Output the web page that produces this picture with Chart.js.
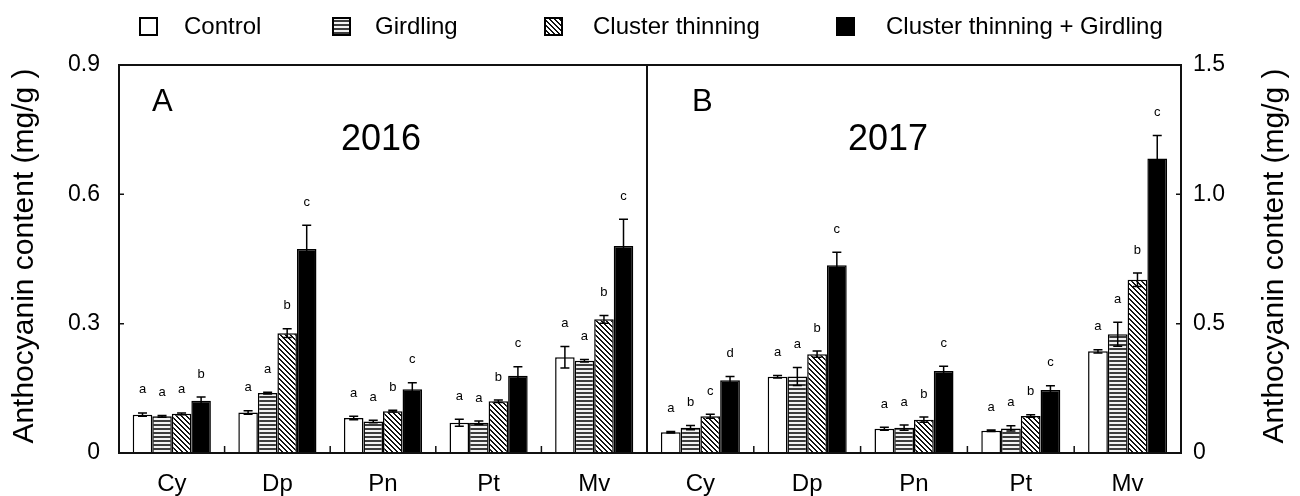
<!DOCTYPE html>
<html>
<head>
<meta charset="utf-8">
<script src="https://cdn.jsdelivr.net/npm/chart.js@4.4.1/dist/chart.umd.min.js"></script>
<style>
  body { margin: 0; background: #fff; }
  #wrap { position: relative; width: 1300px; height: 496px; }
  #wrap canvas { position: absolute; left: 0; top: 0; }
</style>
</head>
<body>
<div id="wrap">
  <canvas id="c2016" width="1300" height="496"></canvas>
  <canvas id="c2017" width="1300" height="496"></canvas>
</div>
<script>
const categories = ['Cy', 'Dp', 'Pn', 'Pt', 'Mv'];
const treatments = ['Control', 'Girdling', 'Cluster thinning', 'Cluster thinning + Girdling'];

// 2016 (panel A), mg/g
const control2016 = [0.089, 0.094, 0.081, 0.070, 0.222];
const girdling2016 = [0.085, 0.139, 0.073, 0.070, 0.214];
const thinning2016 = [0.091, 0.278, 0.097, 0.120, 0.310];
const both2016 = [0.121, 0.473, 0.148, 0.179, 0.480];
const control2016Err = [0.004, 0.004, 0.004, 0.008, 0.025];
const girdling2016Err = [0.002, 0.002, 0.003, 0.004, 0.003];
const thinning2016Err = [0.002, 0.010, 0.002, 0.003, 0.009];
const both2016Err = [0.009, 0.055, 0.015, 0.021, 0.062];
const control2016Sig = ['a', 'a', 'a', 'a', 'a'];
const girdling2016Sig = ['a', 'a', 'a', 'a', 'a'];
const thinning2016Sig = ['a', 'b', 'b', 'b', 'b'];
const both2016Sig = ['b', 'c', 'c', 'c', 'c'];

// 2017 (panel B), mg/g
const control2017 = [0.080, 0.295, 0.094, 0.086, 0.393];
const girdling2017 = [0.098, 0.296, 0.098, 0.095, 0.459];
const thinning2017 = [0.142, 0.382, 0.129, 0.143, 0.670];
const both2017 = [0.281, 0.726, 0.317, 0.244, 1.139];
const control2017Err = [0.003, 0.005, 0.006, 0.003, 0.006];
const girdling2017Err = [0.008, 0.035, 0.010, 0.010, 0.046];
const thinning2017Err = [0.008, 0.012, 0.010, 0.005, 0.026];
const both2017Err = [0.015, 0.050, 0.018, 0.016, 0.088];
const control2017Sig = ['a', 'a', 'a', 'a', 'a'];
const girdling2017Sig = ['b', 'a', 'a', 'a', 'a'];
const thinning2017Sig = ['c', 'b', 'b', 'b', 'b'];
const both2017Sig = ['d', 'c', 'c', 'c', 'c'];

const ticks2016 = ['0', '0.3', '0.6', '0.9'];
const ticks2017 = ['0', '0.5', '1.0', '1.5'];

const FONT = "'Liberation Sans', Arial, sans-serif";

// fill patterns for the bars
function makeTile(size, isDark, dark, light) {
  const c = document.createElement('canvas');
  c.width = size; c.height = size;
  const g = c.getContext('2d');
  for (let y = 0; y < size; y++) {
    for (let x = 0; x < size; x++) {
      g.fillStyle = isDark(x, y) ? dark : light;
      g.fillRect(x, y, 1, 1);
    }
  }
  return g.createPattern(c, 'repeat');
}
const stripes = makeTile(4, (x, y) => y < 2, '#3c3c3c', '#f2f2f2');
const hatch = makeTile(5, (x, y) => ((x - y) % 5 + 5) % 5 < 2, '#111', '#fff');
const fills = ['#ffffff', stripes, hatch, '#000000'];

function makeDatasets(series) {
  return series.map((data, i) => ({
    label: treatments[i],
    data: data,
    backgroundColor: fills[i],
    borderColor: '#000',
    borderWidth: 1.5,
    barPercentage: 1,
    categoryPercentage: 0.74
  }));
}

function panelPlugin(cfg) {
  return {
    id: 'panel' + cfg.year,
    afterDatasetsDraw(chart) {
      const ctx = chart.ctx;
      const area = chart.chartArea;
      const ys = chart.scales.y;
      const xs = chart.scales.x;
      ctx.save();

      // error bars and significance letters
      ctx.strokeStyle = '#000';
      ctx.lineWidth = 1.5;
      ctx.fillStyle = '#000';
      ctx.font = '13px ' + FONT;
      ctx.textAlign = 'center';
      ctx.textBaseline = 'middle';
      chart.data.datasets.forEach((ds, i) => {
        chart.getDatasetMeta(i).data.forEach((bar, j) => {
          const v = ds.data[j], e = cfg.errs[i][j];
          const yt = ys.getPixelForValue(v + e);
          const yb = ys.getPixelForValue(v - e);
          ctx.beginPath();
          ctx.moveTo(bar.x, yt); ctx.lineTo(bar.x, yb);
          ctx.moveTo(bar.x - 4.5, yt); ctx.lineTo(bar.x + 4.5, yt);
          ctx.moveTo(bar.x - 4.5, yb); ctx.lineTo(bar.x + 4.5, yb);
          ctx.stroke();
          ctx.fillText(cfg.sig[i][j], bar.x, yt - 23);
        });
      });

      // frame
      ctx.lineWidth = 2;
      ctx.strokeStyle = '#111';
      ctx.strokeRect(area.left, area.top, area.right - area.left, area.bottom - area.top);

      // inward ticks
      ctx.lineWidth = 1.5;
      ctx.beginPath();
      ys.ticks.forEach(t => {
        const py = ys.getPixelForValue(t.value);
        if (cfg.side === 'left') { ctx.moveTo(area.left, py); ctx.lineTo(area.left + 5, py); }
        else { ctx.moveTo(area.right, py); ctx.lineTo(area.right - 5, py); }
      });
      for (let i = 1; i < categories.length; i++) {
        const px = (xs.getPixelForValue(i - 1) + xs.getPixelForValue(i)) / 2;
        ctx.moveTo(px, area.bottom); ctx.lineTo(px, area.bottom - 7);
      }
      ctx.stroke();

      // panel letter and year
      ctx.fillStyle = '#000';
      ctx.textAlign = 'left';
      ctx.font = '31px ' + FONT;
      ctx.fillText(cfg.panel, cfg.panelX, 102);
      ctx.textAlign = 'center';
      ctx.font = '36px ' + FONT;
      ctx.fillText(cfg.year, cfg.yearX, 140);

      // y axis title
      ctx.save();
      ctx.translate(cfg.titleX, 256);
      ctx.rotate(-Math.PI / 2);
      ctx.font = '30px ' + FONT;
      ctx.fillText('Anthocyanin content (mg/g )', 0, 0);
      ctx.restore();

      // legend (drawn once)
      if (cfg.legend) {
        const boxX = [140, 333, 545, 837];
        const textX = [184, 375, 593, 886];
        ctx.font = '24px ' + FONT;
        ctx.textAlign = 'left';
        treatments.forEach((name, i) => {
          ctx.fillStyle = fills[i];
          ctx.fillRect(boxX[i], 18, 17, 17);
          ctx.strokeStyle = '#000';
          ctx.lineWidth = 2;
          ctx.strokeRect(boxX[i], 18, 17, 17);
          ctx.fillStyle = '#000';
          ctx.fillText(name, textX[i], 27);
        });
      }
      ctx.restore();
    }
  };
}

function makeChart(id, series, cfg) {
  const left = cfg.side === 'left';
  return new Chart(document.getElementById(id), {
    type: 'bar',
    data: { labels: categories, datasets: makeDatasets(series) },
    options: {
      responsive: false,
      animation: false,
      layout: { padding: left ? { left: 0, right: 653, top: 65, bottom: 0 } : { left: 647, right: 0, top: 65, bottom: 0 } },
      plugins: { legend: { display: false }, tooltip: { enabled: false } },
      scales: {
        x: {
          grid: { display: false, drawTicks: false },
          border: { display: false },
          ticks: { color: '#000', font: { family: FONT, size: 24 }, padding: 17, maxRotation: 0 },
          afterFit: s => { s.height = 43; }
        },
        y: {
          position: cfg.side,
          min: 0,
          max: cfg.max,
          grid: { display: false, drawTicks: false },
          border: { display: false },
          ticks: {
            stepSize: cfg.max / 3,
            color: '#000',
            font: { family: FONT, size: 23 },
            padding: left ? 19 : 12,
            callback: (v, i) => cfg.tickLabels[i]
          },
          afterFit: s => { s.width = 119; }
        }
      }
    },
    plugins: [panelPlugin(cfg)]
  });
}

makeChart('c2016', [control2016, girdling2016, thinning2016, both2016], {
  side: 'left', max: 0.9, tickLabels: ticks2016, year: '2016', panel: 'A',
  panelX: 152, yearX: 381, titleX: 25, legend: true,
  errs: [control2016Err, girdling2016Err, thinning2016Err, both2016Err],
  sig: [control2016Sig, girdling2016Sig, thinning2016Sig, both2016Sig]
});

makeChart('c2017', [control2017, girdling2017, thinning2017, both2017], {
  side: 'right', max: 1.5, tickLabels: ticks2017, year: '2017', panel: 'B',
  panelX: 692, yearX: 888, titleX: 1275, legend: false,
  errs: [control2017Err, girdling2017Err, thinning2017Err, both2017Err],
  sig: [control2017Sig, girdling2017Sig, thinning2017Sig, both2017Sig]
});
</script>
</body>
</html>
